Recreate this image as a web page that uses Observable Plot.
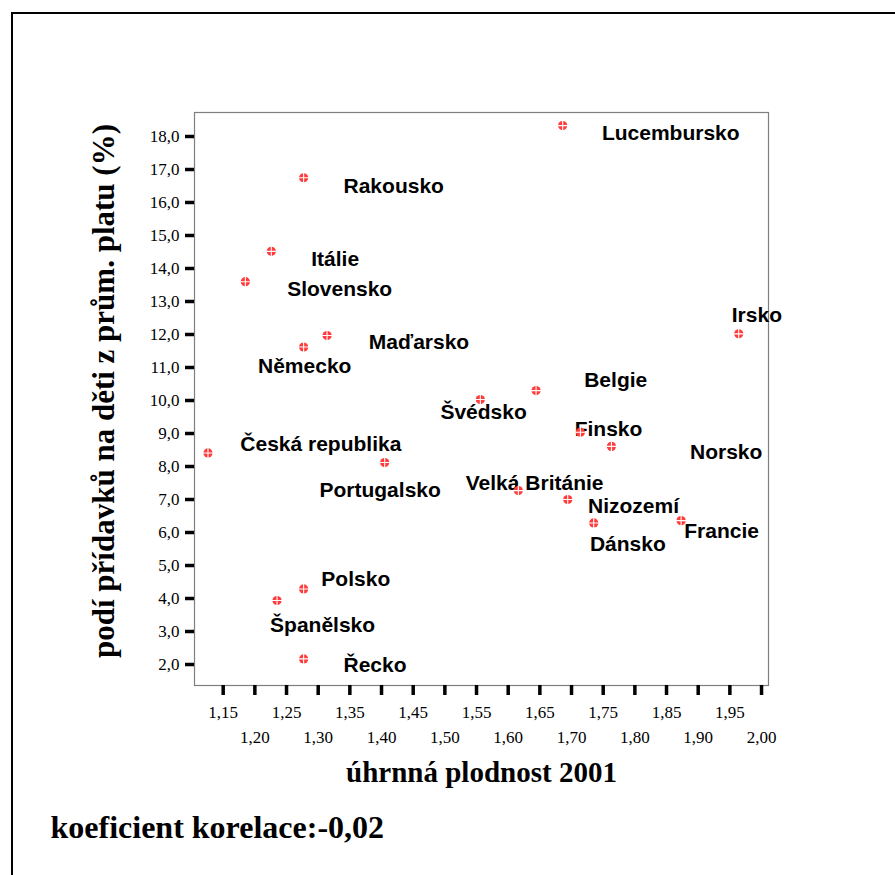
<!DOCTYPE html>
<html>
<head>
<meta charset="utf-8">
<script src="https://cdn.jsdelivr.net/npm/d3@7"></script>
<script src="https://cdn.jsdelivr.net/npm/@observablehq/plot@0.6"></script>
<style>
  html, body { margin: 0; padding: 0; background: #fff; overflow: hidden; }
  #wrap { position: relative; width: 895px; height: 875px; }
  #border { position: absolute; left: 11px; top: 12px; width: 1000px; height: 1000px;
            border-left: 2px solid #000; border-top: 2px solid #000; pointer-events: none; }
  #chart { position: absolute; left: 0; top: 0; }
</style>
</head>
<body>
<div id="wrap"><div id="chart"></div><div id="border"></div></div>
<script>
// Countries (labels)
const countries = ["Lucembursko","Rakousko","Itálie","Slovensko","Maďarsko","Německo",
  "Česká republika","Portugalsko","Polsko","Španělsko","Řecko","Belgie","Švédsko",
  "Irsko","Finsko","Norsko","Velká Británie","Nizozemí","Dánsko","Francie"];
// úhrnná plodnost 2001 (x)
const fertility = [1.686,1.277,1.226,1.185,1.314,1.277,1.126,1.405,1.277,1.235,1.277,
  1.644,1.556,1.964,1.714,1.763,1.616,1.694,1.735,1.873];
// podíl přídavků na děti z prům. platu (%) (y)
const allowance = [18.33,16.75,14.52,13.60,11.97,11.62,8.41,8.12,4.29,3.94,2.17,
  10.30,10.03,12.02,9.04,8.61,7.27,7.00,6.29,6.36];
// label anchor positions, read in data units from the picture
const labelX = [1.748,1.340,1.289,1.251,1.380,1.205,1.177,1.302,1.305,1.224,1.340,
  1.720,1.493,1.953,1.705,1.887,1.533,1.726,1.729,1.878];
const labelY = [18.11,16.49,14.29,13.36,11.77,11.04,8.66,7.27,4.57,3.18,1.97,
  10.61,9.65,12.58,9.14,8.43,7.49,6.79,5.64,6.04];

const yTicks = [2,3,4,5,6,7,8,9,10,11,12,13,14,15,16,17,18];
const xTicksRow1 = [1.15,1.25,1.35,1.45,1.55,1.65,1.75,1.85,1.95];
const xTicksRow2 = [1.20,1.30,1.40,1.50,1.60,1.70,1.80,1.90,2.00];

const xTitle = "úhrnná plodnost 2001";
const yTitle = "podí přídavků na děti z prům. platu (%)";
const caption = "koeficient korelace:-0,02";

const data = countries.map((name, i) => ({
  name, x: fertility[i], y: allowance[i], lx: labelX[i], ly: labelY[i]
}));

const fmtY = d => d3.format(".1f")(d).replace(".", ",");
const fmtX = d => d3.format(".2f")(d).replace(".", ",");

const serif = "'Liberation Serif', 'Times New Roman', serif";
const sans = "'Liberation Sans', Arial, sans-serif";

const chart = Plot.plot({
  width: 895,
  height: 875,
  marginLeft: 194,
  marginRight: 127,
  marginTop: 112,
  marginBottom: 190,
  x: {domain: [1.1047, 2.011]},
  y: {domain: [1.364, 18.727]},
  style: {fontFamily: serif, fontSize: "17px", color: "#000", background: "transparent", overflow: "visible"},
  marks: [
    Plot.frame({stroke: "#7f7f7f", strokeWidth: 1.2}),
    Plot.axisY({ticks: yTicks, tickSize: 9, tickPadding: 6, strokeWidth: 3.5, tickFormat: fmtY,
      label: null, fontSize: 17, fontFamily: serif}),
    Plot.axisX({ticks: xTicksRow1, tickSize: 10, tickPadding: 10, strokeWidth: 3.5, tickFormat: fmtX,
      label: null, fontSize: 17, fontFamily: serif}),
    Plot.axisX({ticks: xTicksRow2, tickSize: 10, tickPadding: 35, strokeWidth: 3.5, tickFormat: fmtX,
      label: null, fontSize: 17, fontFamily: serif}),
    Plot.text(data, {x: "lx", y: "ly", text: "name", textAnchor: "start", lineAnchor: "middle",
      fontFamily: sans, fontWeight: "bold", fontSize: 21, fill: "#000"}),
    Plot.dot(data, {x: "x", y: "y", r: 4.6, symbol: "circle", fill: "#ff3b3b", stroke: "none"}),
    Plot.dot(data, {x: "x", y: "y", r: 3.4, symbol: "plus", stroke: "#fff", strokeWidth: 1.1}),
    Plot.text([xTitle], {frameAnchor: "bottom", dy: 96, lineAnchor: "bottom", textAnchor: "middle",
      fontFamily: serif, fontWeight: "bold", fontSize: 29, fill: "#000"}),
    Plot.text([yTitle], {frameAnchor: "left", rotate: -90, dx: -81, dy: -8, lineAnchor: "bottom",
      textAnchor: "middle", fontFamily: serif, fontWeight: "bold", fontSize: 31, fill: "#000"}),
    Plot.text([caption], {frameAnchor: "bottom-left", dx: -144, dy: 152, lineAnchor: "bottom",
      textAnchor: "start", fontFamily: serif, fontWeight: "bold", fontSize: 32, fill: "#000"})
  ]
});
document.getElementById("chart").appendChild(chart);
</script>
</body>
</html>
